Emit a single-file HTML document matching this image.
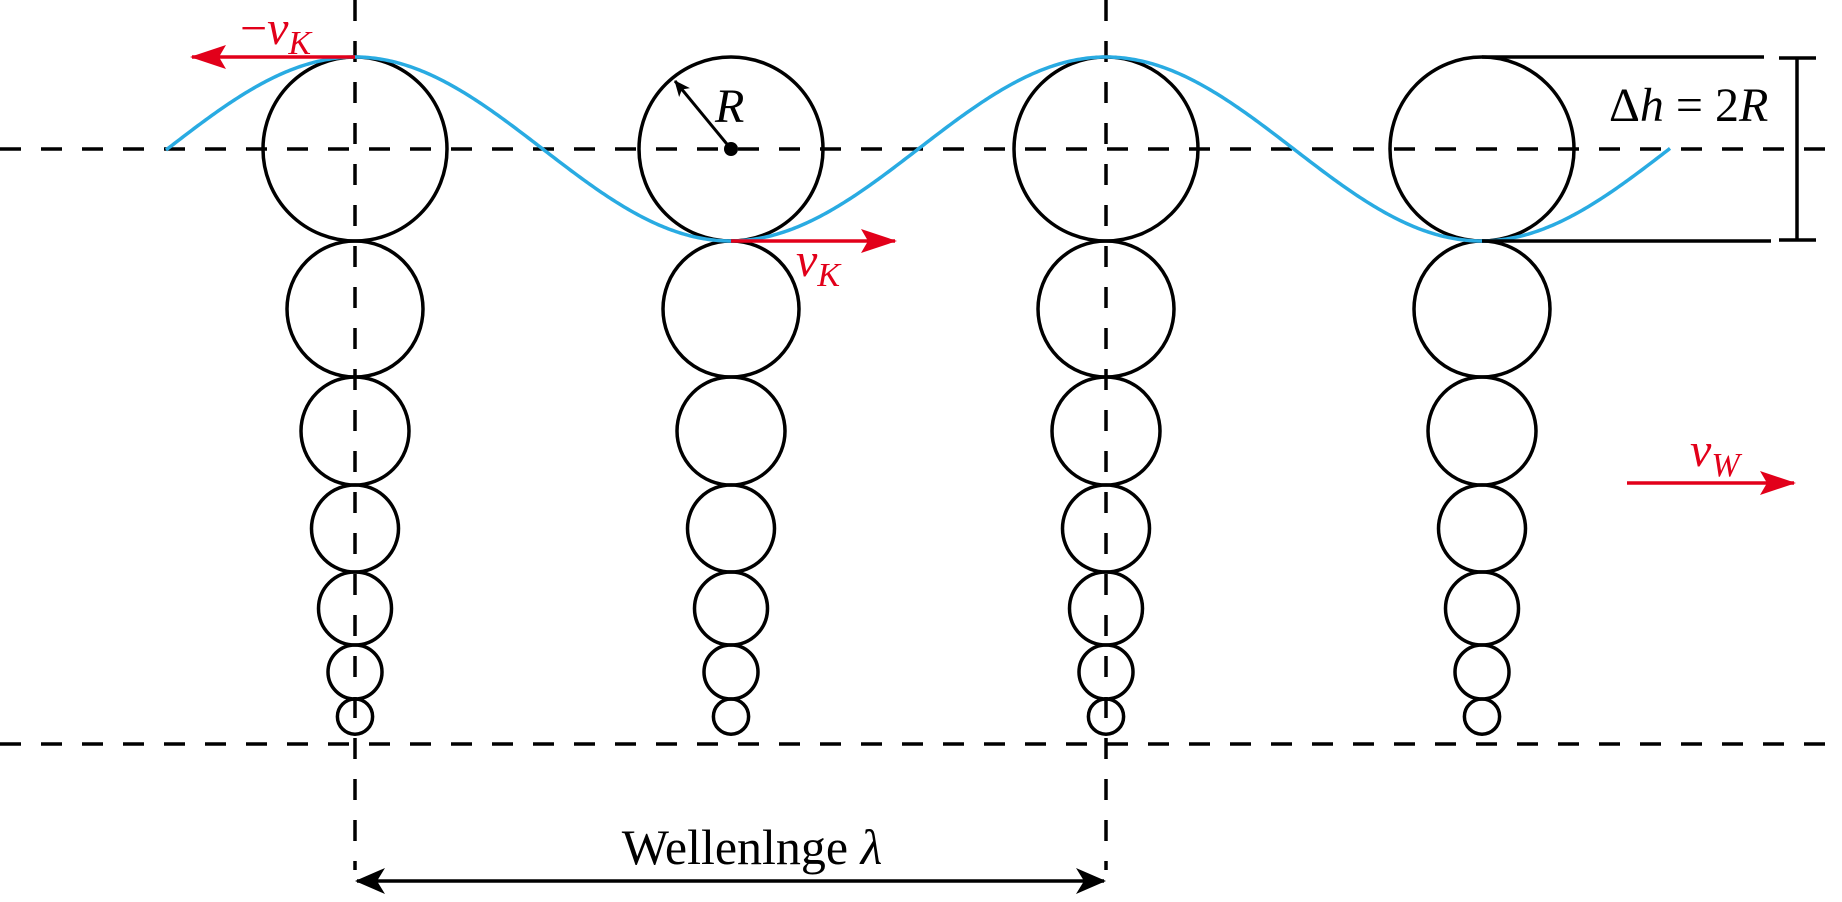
<!DOCTYPE html>
<html><head><meta charset="utf-8"><style>
html,body{margin:0;padding:0;background:#fff;}
svg{display:block;}
text{font-family:"Liberation Serif",serif;}
</style></head><body>
<svg id="fig" width="1842" height="902" viewBox="0 0 1842 902" xmlns="http://www.w3.org/2000/svg">
<defs>
<marker id="arR" markerWidth="36" markerHeight="24" refX="34" refY="12" orient="auto" markerUnits="userSpaceOnUse"><path d="M0,0 L36,12 L0,24 L7,12 Z" fill="#e2001a"/></marker>
<marker id="arK" markerWidth="30" markerHeight="26" refX="28" refY="13" orient="auto-start-reverse" markerUnits="userSpaceOnUse"><path d="M0,0 L30,13 L0,26 L8,13 Z" fill="#000"/></marker>
<marker id="arS" markerWidth="16" markerHeight="14" refX="15" refY="7" orient="auto" markerUnits="userSpaceOnUse"><path d="M0,0 L16,7 L0,14 L4,7 Z" fill="#000"/></marker>
</defs>
<g id="dashes" stroke="#000" stroke-width="3.5" stroke-dasharray="21 20" fill="none">
<line x1="0" y1="149" x2="1842" y2="149"/>
<line x1="0" y1="744" x2="1842" y2="744"/>
<line x1="355" y1="0" x2="355" y2="870"/>
<line x1="1106" y1="0" x2="1106" y2="870"/>
</g>
<g id="circles" stroke="#000" stroke-width="3.5" fill="none"></g>
<path id="wave" stroke="#29abe2" stroke-width="3.5" fill="none"/>
<line x1="731" y1="149" x2="675" y2="81" stroke="#000" stroke-width="3" marker-end="url(#arS)"/>
<circle cx="731" cy="149" r="7" fill="#000"/>
<text x="715" y="122" font-size="48" font-style="italic">R</text>
<line x1="355" y1="57" x2="192" y2="57" stroke="#e2001a" stroke-width="3.5" marker-end="url(#arR)"/>
<text x="240" y="44" font-size="48" fill="#e2001a"><tspan>−</tspan><tspan font-style="italic">v</tspan><tspan font-style="italic" font-size="34" dy="10">K</tspan></text>
<line x1="731" y1="241" x2="895" y2="241" stroke="#e2001a" stroke-width="3.5" marker-end="url(#arR)"/>
<text x="796" y="276" font-size="48" fill="#e2001a"><tspan font-style="italic">v</tspan><tspan font-style="italic" font-size="34" dy="10">K</tspan></text>
<line x1="1627" y1="483" x2="1794" y2="483" stroke="#e2001a" stroke-width="3.5" marker-end="url(#arR)"/>
<text x="1690" y="466" font-size="48" fill="#e2001a"><tspan font-style="italic">v</tspan><tspan font-style="italic" font-size="34" dy="10">W</tspan></text>
<g stroke="#000" stroke-width="3.5">
<line x1="1482" y1="57" x2="1764" y2="57"/>
<line x1="1482" y1="241" x2="1771" y2="241"/>
<line x1="1779" y1="58" x2="1816" y2="58"/>
<line x1="1779" y1="240" x2="1816" y2="240"/>
<line x1="1797" y1="58" x2="1797" y2="240"/>
</g>
<text x="1609" y="121" font-size="48">Δ<tspan font-style="italic">h</tspan> = 2<tspan font-style="italic">R</tspan></text>
<line x1="357" y1="881" x2="1104" y2="881" stroke="#000" stroke-width="3.5" marker-start="url(#arK)" marker-end="url(#arK)"/>
<text x="752" y="864" font-size="50" text-anchor="middle">Wellenlnge <tspan font-style="italic">λ</tspan></text>
</svg>
<script>
const columnsX = [355, 731, 1106, 1482];
const radii = [92, 68, 54, 43.5, 36.5, 27, 17.6];
const chainTop = 57;
const waveStartX = 166, waveEndX = 1670, waveMid = 149, waveAmp = 92, waveLength = 751, crestX = 355;
const g = document.getElementById('circles');
columnsX.forEach((cx, ci) => {
  let top = chainTop;
  radii.forEach((r, ri) => {
    const c = document.createElementNS('http://www.w3.org/2000/svg', 'circle');
    c.setAttribute('cx', cx);
    c.setAttribute('cy', top + r);
    c.setAttribute('r', r);
    
    
    g.appendChild(c);
    top += 2 * r;
  });
});
let d = '';
for (let x = waveStartX; x <= waveEndX; x += 2) {
  const y = waveMid - waveAmp * Math.cos(2 * Math.PI * (x - crestX) / waveLength);
  d += (d ? ' L' : 'M') + x + ',' + y.toFixed(2);
}
document.getElementById('wave').setAttribute('d', d);
</script>
</body></html>
